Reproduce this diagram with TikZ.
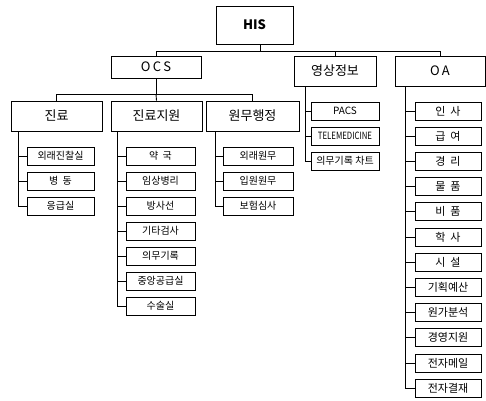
\documentclass[tikz,border=0pt]{standalone}
\usepackage{fontspec}
\setmainfont{Noto Sans CJK KR}
\begin{document}
\begin{tikzpicture}[x=1pt,y=-1pt,line width=0.9pt,
  box/.style={draw,rectangle,inner sep=0pt,align=center},
  top/.style={box,minimum width=77pt,minimum height=38pt,font=\fontsize{13}{13}\selectfont\bfseries},
  lvl/.style={box,minimum height=30pt,font=\fontsize{13}{13}\selectfont},
  leaf/.style={box,minimum height=18pt,font=\fontsize{10}{10}\selectfont},
  conn/.style={line width=0.9pt}]
\useasboundingbox (0,0) rectangle (486,400);
% top
\node[top] (his) at (254.5,25) {HIS};
\node[box,minimum width=90pt,minimum height=22pt,font=\fontsize{13}{13}\selectfont] (ocs) at (156,67) {O\,C\,S};
\node[lvl,minimum width=82pt] (vis) at (335,71) {영상정보};
\node[lvl,minimum width=90pt] (oa) at (440,71) {O\,A};
\coordinate (bus) at (260,51);
\draw[conn] (his.south -| bus) -- (bus) -| (ocs.north);
\draw[conn] (bus) -| (vis.north);
\draw[conn] (bus) -| (oa.north);
% second level under OCS
\node[lvl,minimum width=91pt] (jr) at (56.5,116) {진료};
\node[lvl,minimum width=91pt] (jrs) at (156.5,116) {진료지원};
\node[lvl,minimum width=93pt] (wm) at (252.5,116) {원무행정};
\coordinate (obus) at (156,94);
\draw[conn] (ocs.south) -- (obus) -| (jr.north);
\draw[conn] (obus) -| (wm.north);
\draw[conn] (obus) -- (jrs.north);
% leaves of 진료
\foreach \t [count=\i] in {외래진찰실,병\ \ 동,응급실}{
  \node[leaf,minimum width=67pt] (jr\i) at (60.5,156+25*\i-25) {\t};
  \draw[conn] ([xshift=8pt]jr.south west) |- (jr\i.west);
}
% leaves of 진료지원
\foreach \t [count=\i] in {약\ \ 국,임상병리,방사선,기타검사,의무기록,중앙공급실,수술실}{
  \node[leaf,minimum width=69pt] (js\i) at (160.5,156+25*\i-25) {\t};
  \draw[conn] ([xshift=7pt]jrs.south west) |- (js\i.west);
}
% leaves of 원무행정
\foreach \t [count=\i] in {외래원무,입원원무,보험심사}{
  \node[leaf,minimum width=70pt] (wm\i) at (258,156+25*\i-25) {\t};
  \draw[conn] ([xshift=10pt]wm.south west) |- (wm\i.west);
}
% leaves of 영상정보
\foreach \t [count=\i] in {PACS,\scalebox{0.78}[1]{TELEMEDICINE},의무기록 차트}{
  \node[leaf,minimum width=68pt] (vs\i) at (345,111+25*\i-25) {\t};
  \draw[conn] ([xshift=12pt]vis.south west) |- (vs\i.west);
}
% leaves of OA
\foreach \t [count=\i] in {인\ \ 사,급\ \ 여,경\ \ 리,물\ \ 품,비\ \ 품,학\ \ 사,시\ \ 설,기획예산,원가분석,경영지원,전자메일,전자결재}{
  \node[leaf,minimum width=66pt,font=\fontsize{11}{11}\selectfont] (oa\i) at (448,111+25.2*\i-25.2) {\t};
  \draw[conn] ([xshift=11pt]oa.south west) |- (oa\i.west);
}
\end{tikzpicture}
\end{document}
